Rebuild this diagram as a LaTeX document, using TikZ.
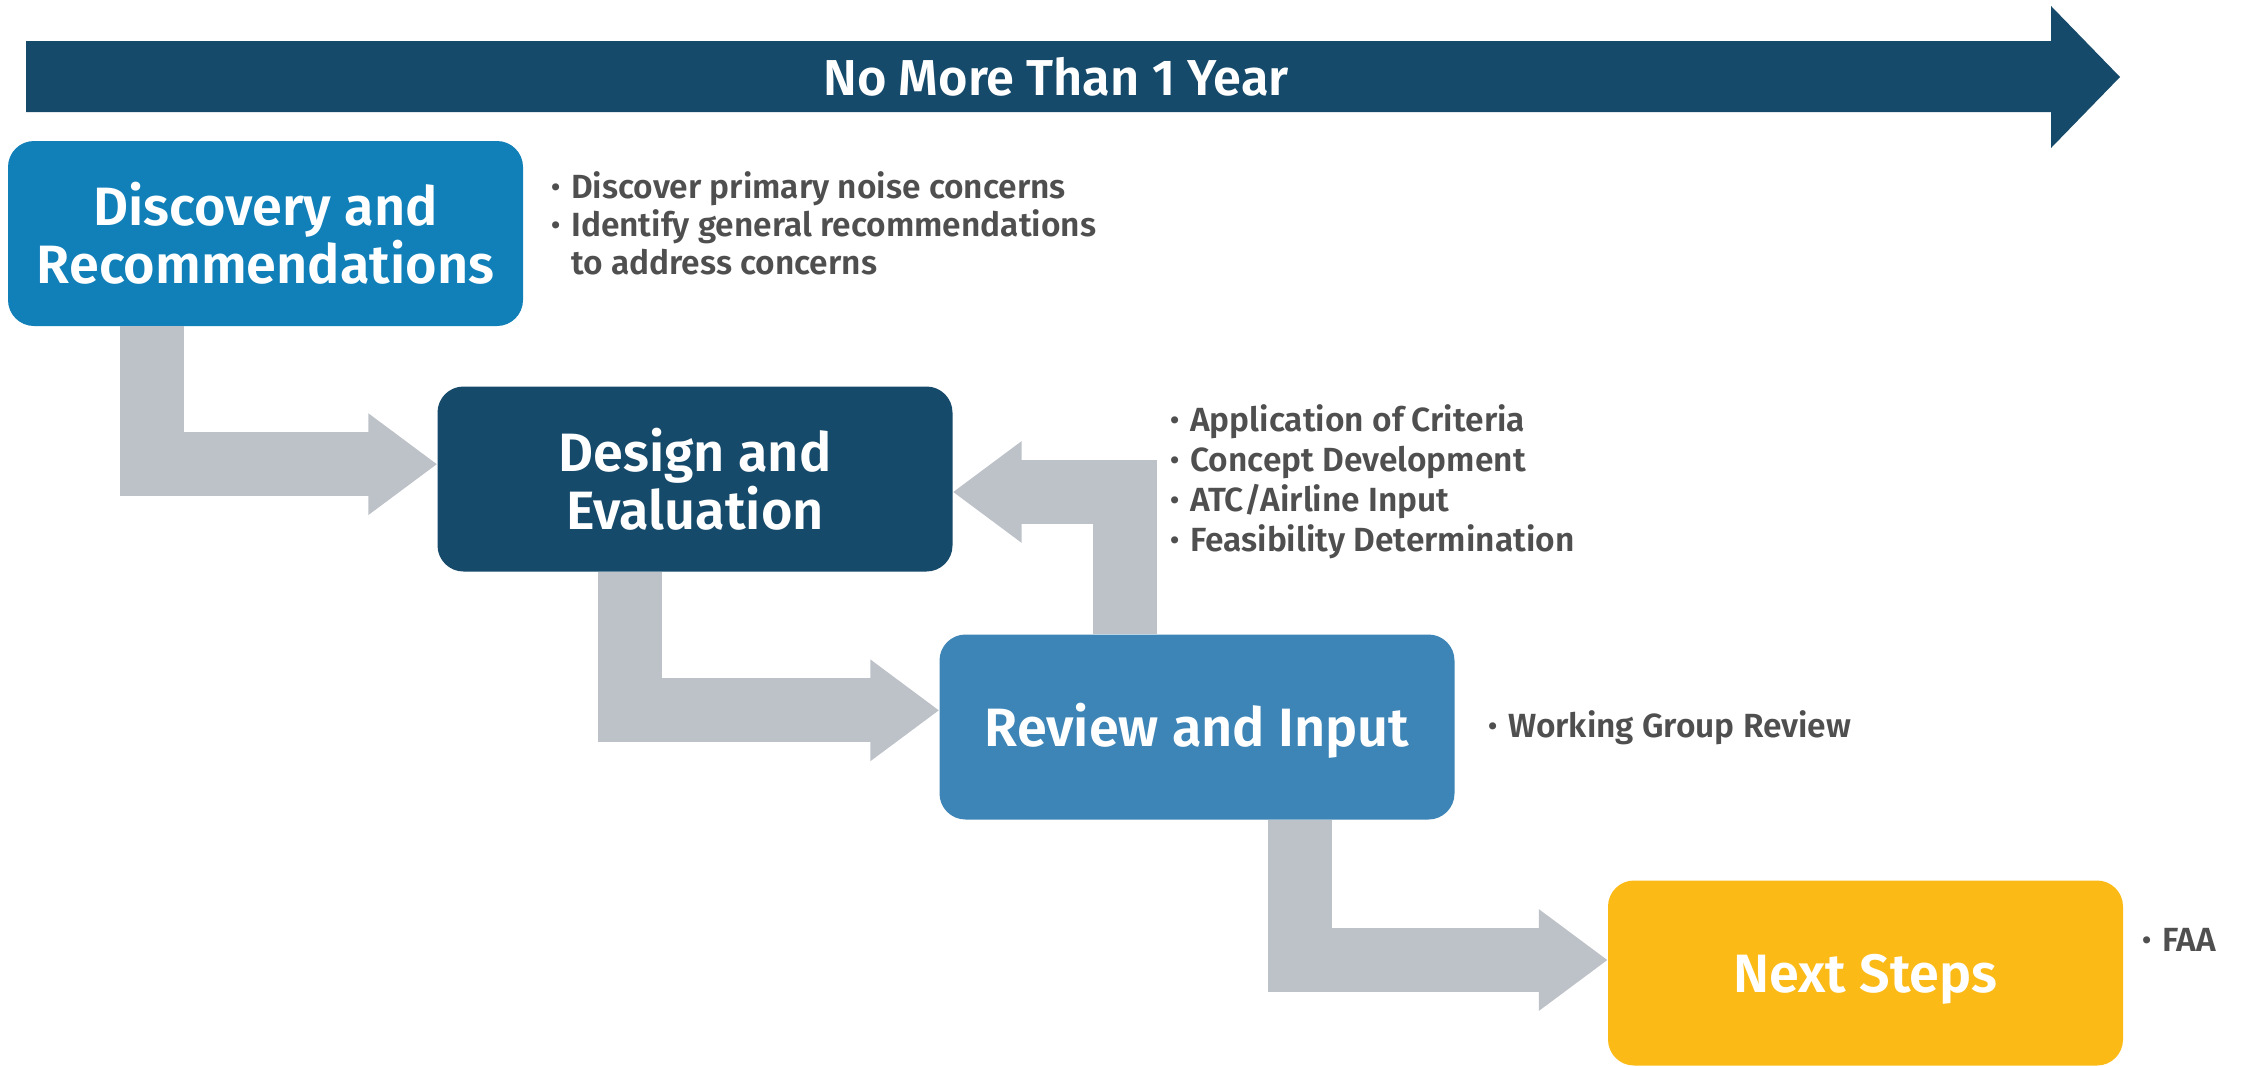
\documentclass[tikz,border=0pt]{standalone}
\usepackage{fontspec}
\setmainfont{Fira Sans}[BoldFont={Fira Sans SemiBold}]
\usepackage{tikz}
\usetikzlibrary{arrows.meta,calc}
\definecolor{navy}{HTML}{164A6A}
\definecolor{sky}{HTML}{1180B9}
\definecolor{steel}{HTML}{3D85B6}
\definecolor{gold}{HTML}{FBBA16}
\definecolor{pipe}{HTML}{BDC2C8}
\definecolor{txt}{HTML}{4F4F4F}
\newcommand{\itm}{\makebox[20pt][l]{\raisebox{2pt}{\scalebox{0.8}{\textbullet}}}}
\newcommand{\itmgap}{\makebox[20pt]{}}
\tikzset{
  phase/.style={rounded corners=26pt,minimum width=515pt,minimum height=185pt,align=center,text=white,font=\fontsize{54}{58}\selectfont\bfseries,inner sep=0pt},
  notes/.style={anchor=base west,align=left,text=txt,font=\fontsize{33.5}{38}\selectfont\bfseries,inner sep=0pt},
  flow/.style={-{Triangle[length=69pt,width=97pt]},line width=64pt,draw=pipe},
  banner/.style={font=\fontsize{50.5}{58}\selectfont\bfseries,text=white,anchor=base}
}

\begin{document}
\begin{tikzpicture}[x=1pt,y=-1pt]
  \useasboundingbox (0,0) rectangle (2249,1066);
  % timeline banner
  \fill[navy] (26,41) -- (2051,41) -- (2051,6) -- (2120,77) -- (2051,148) -- (2051,112) -- (26,112) -- cycle;
  \node[banner] (span) at (1056,95) {No More Than 1 Year};
  % phases
  \node[phase,fill=sky] (disc) at (265.5,233.5) {Discovery and\\Recommendations};
  \node[phase,fill=navy] (design) at (695,479) {Design and\\Evaluation};
  \node[phase,fill=steel,text depth=5pt] (review) at (1197,727) {Review and Input};
  \node[phase,fill=gold,text depth=0pt] (next) at (1865.5,973) {Next Steps};
  % notes (anchored at the baseline of their last line)
  \node[notes] (discn) at (551,274) {\itm Discover primary noise concerns\\\itm Identify general recommendations\\\itmgap to address concerns};
  \node[notes,font=\fontsize{33.5}{40}\selectfont\bfseries] (designn) at (1170,551) {\itm Application of Criteria\\\itm Concept Development\\\itm ATC/Airline Input\\\itm Feasibility Determination};
  \node[notes] (reviewn) at (1488,737) {\itm Working Group Review};
  \node[notes] (nextn) at (2142,951) {\itm FAA};
  % flow arrows
  \draw[flow] ($(disc.south west)!0.28!(disc.south east)$) |- ($(design.north west)!0.42!(design.south west)$);
  \draw[flow] ($(design.south west)!0.373!(design.south east)$) |- ($(review.north west)!0.41!(review.south west)$);
  \draw[flow] ($(review.north west)!0.36!(review.north east)$) |- ($(design.north east)!0.57!(design.south east)$);
  \draw[flow] ($(review.south west)!0.70!(review.south east)$) |- ($(next.north west)!0.43!(next.south west)$);
\end{tikzpicture}
\end{document}
